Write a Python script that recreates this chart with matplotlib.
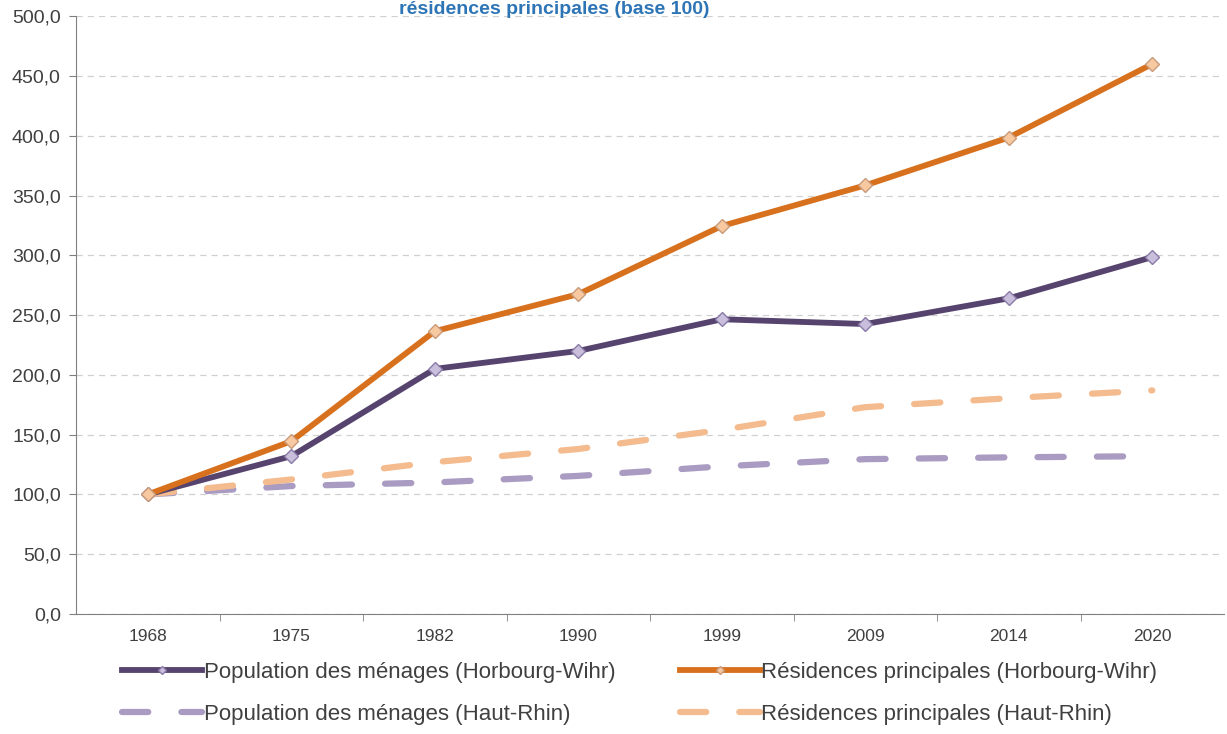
import matplotlib
matplotlib.use('Agg')
import matplotlib.pyplot as plt
from matplotlib.ticker import FuncFormatter, FixedLocator

plt.rcParams['font.family'] = ['Liberation Sans', 'DejaVu Sans']

annees = ['1968', '1975', '1982', '1990', '1999', '2009', '2014', '2020']
pop_hw = [100.0, 132.0, 205.0, 220.0, 246.5, 242.5, 264.0, 298.5]
res_hw = [100.0, 144.5, 236.5, 267.5, 324.5, 358.5, 398.5, 460.0]
pop_hr = [100.0, 107.0, 110.0, 115.5, 123.5, 129.5, 131.0, 132.0]
res_hr = [100.0, 112.5, 127.0, 138.0, 154.0, 173.0, 180.5, 187.0]

fig = plt.figure(figsize=(12.27, 7.34), dpi=100)
ax = fig.add_axes([0.062, 0.1635, 0.9356, 0.8145])

x = range(len(annees))
l3, = ax.plot(x, pop_hr, color='#a99bc1', lw=4.5, dashes=(4.2, 5.3),
              dash_capstyle='round', zorder=3)
l4, = ax.plot(x, res_hr, color='#f4bb8e', lw=4.5, dashes=(4.2, 5.3),
              dash_capstyle='round', zorder=3)
l1, = ax.plot(x, pop_hw, color='#56446f', lw=4.2, marker='D', ms=7,
              mfc='#c9bfdc', mec='#8a7aa8', mew=1, zorder=4)
l2, = ax.plot(x, res_hw, color='#d8711e', lw=4.2, marker='D', ms=7,
              mfc='#f8c9a0', mec='#c89a7a', mew=1, zorder=5)

ax.set_xlim(-0.5, len(annees) - 0.5)
ax.set_ylim(0, 500)
ax.set_yticks(range(0, 501, 50))
ax.yaxis.set_major_formatter(FuncFormatter(lambda v, p: f'{v:.1f}'.replace('.', ',')))
ax.set_xticks(list(x))
ax.set_xticklabels(annees)
ax.xaxis.set_minor_locator(FixedLocator([i + 0.5 for i in range(len(annees) - 1)]))
ax.tick_params(axis='x', which='major', length=0, pad=11, labelsize=12.5, labelcolor='#404040')
ax.tick_params(axis='x', which='minor', length=5, color='#808080', direction='out')
ax.tick_params(axis='y', length=5, color='#808080', labelsize=14, labelcolor='#404040', pad=6)

ax.grid(axis='y', color='#d0d0d0', ls=(0, (5, 4)), lw=0.9)
ax.set_axisbelow(True)
for s in ['top', 'right']:
    ax.spines[s].set_visible(False)
ax.spines['left'].set_color('#808080')
ax.spines['bottom'].set_color('#808080')

leg = fig.legend([l1, l3, l2, l4],
                 ['Population des ménages (Horbourg-Wihr)', 'Population des ménages (Haut-Rhin)',
                  'Résidences principales (Horbourg-Wihr)', 'Résidences principales (Haut-Rhin)'],
                 loc='lower left', bbox_to_anchor=(0.083, -0.015), ncol=2, frameon=False,
                 fontsize=16, handlelength=3.6, handletextpad=0.08, columnspacing=2.9,
                 labelspacing=0.95, markerscale=0.6)
for t in leg.get_texts():
    t.set_color('#404040')

fig.text(0.452, 0.999, 'résidences principales (base 100)',
         color='#2e75b6', fontsize=14, fontweight='bold', ha='center', va='top')

fig.savefig('out.png', dpi=100)
